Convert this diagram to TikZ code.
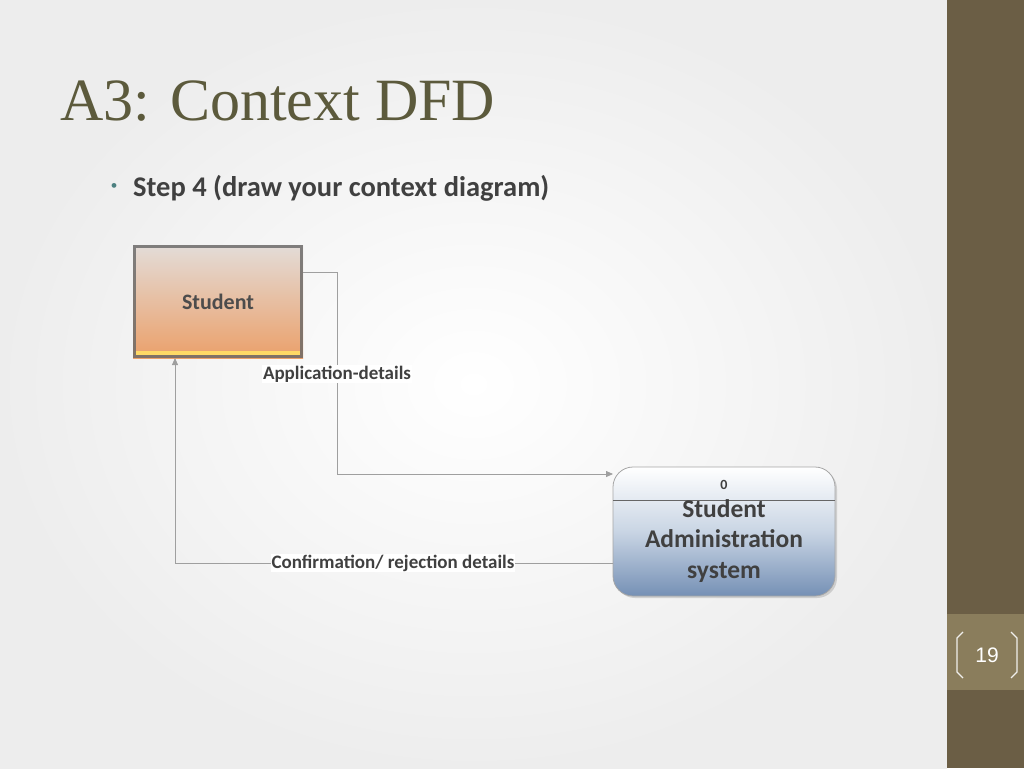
\documentclass[tikz,border=0pt]{standalone}
\usepackage{fontspec}
\setmainfont{Liberation Serif}
\newfontfamily\carfont{Carlito}
\newfontfamily\arlfont{Liberation Sans}
\usetikzlibrary{arrows.meta,shadows}
\definecolor{bar}{HTML}{6B5E45}
\definecolor{barlight}{HTML}{8A7D5C}
\definecolor{titlec}{HTML}{5C5A3C}
\definecolor{txt}{HTML}{404040}
\definecolor{pbot}{HTML}{7590B5}
\definecolor{pmid}{HTML}{C9D5E4}
\definecolor{stop}{HTML}{E3DCD8}
\definecolor{sbot}{HTML}{EBA06A}
\tikzset{
  flow/.style={draw=gray!75,line width=0.8pt,-{Triangle[length=7pt,width=6pt]}},
  lbl/.style={fill=white,inner sep=1pt,font=\carfont\bfseries\fontsize{19}{21}\selectfont,text=txt},
}
\begin{document}
\begin{tikzpicture}[x=1pt,y=-1pt]
\useasboundingbox (0,0) rectangle (1024,768);
\shade[inner color=white,outer color=gray!14] (0,0) rectangle (947,768);
\fill[bar] (947,0) rectangle (1024,768);
\fill[barlight] (947,614) rectangle (1024,690);
\draw[white!90!bar,line width=1.2pt] (963,632) -- (957,638) -- (957,672) -- (963,678);
\draw[white!90!bar,line width=1.2pt] (1011,632) -- (1017,638) -- (1017,672) -- (1011,678);
\node[font=\arlfont\fontsize{21}{24}\selectfont,text=white] (pg) at (987,655) {19};
\node[anchor=base west,inner sep=0,font=\fontsize{60}{66}\selectfont,text=titlec] (title) at (60,120) {A3: Context DFD};
\node[text=gray!60!teal,font=\fontsize{20}{20}\selectfont] (bul) at (114,188) {\textbullet};
\node[anchor=west,inner sep=0,font=\carfont\bfseries\fontsize{28.5}{30}\selectfont,text=txt] (step) at (133,188) {Step 4 (draw your context diagram)};
% Student entity
\shade[top color=stop,bottom color=sbot,middle color=stop!50!sbot] (133,245) rectangle (303,358);
\draw[line width=3pt,draw=black!60,opacity=0.8] (134.5,246.5) rectangle (301.5,356.5);
\fill[orange!50!yellow!60] (136,351) rectangle (300,355);
\node[font=\carfont\bfseries\fontsize{22}{24}\selectfont,text=black!70] (stu) at (218,302) {Student};
\coordinate (stuR) at (303,272);
\coordinate (stuB) at (175,358);
% Process
\shade[rounded corners=20pt,top color=white,bottom color=pbot,middle color=pmid,drop shadow={opacity=0.3,shadow xshift=2pt,shadow yshift=-2pt}] (613,467) rectangle (835,596);
\draw[rounded corners=20pt,draw=gray!70,line width=0.8pt] (613,467) rectangle (835,596);
\draw[gray!80!black,line width=0.8pt] (613,500) -- (835,500);
\node[font=\carfont\bfseries\fontsize{14}{16}\selectfont,text=txt] (zero) at (724,485) {0};
\node[align=center,font=\carfont\bfseries\fontsize{25.5}{30.5}\selectfont,text=black!75] (proc) at (724,541) {Student\\Administration\\system};
\coordinate (procL) at (613,474);
\coordinate (procL2) at (613,563);
% flows
\draw[flow] (stuR) -- (337,272) -- (337,474) -- (procL);
\draw[flow] (procL2) -- (175,563) -- (stuB);
\node[lbl] (l1) at (337,374) {Application-details};
\node[lbl] (l2) at (393,563) {Confirmation/ rejection details};
\end{tikzpicture}
\end{document}
